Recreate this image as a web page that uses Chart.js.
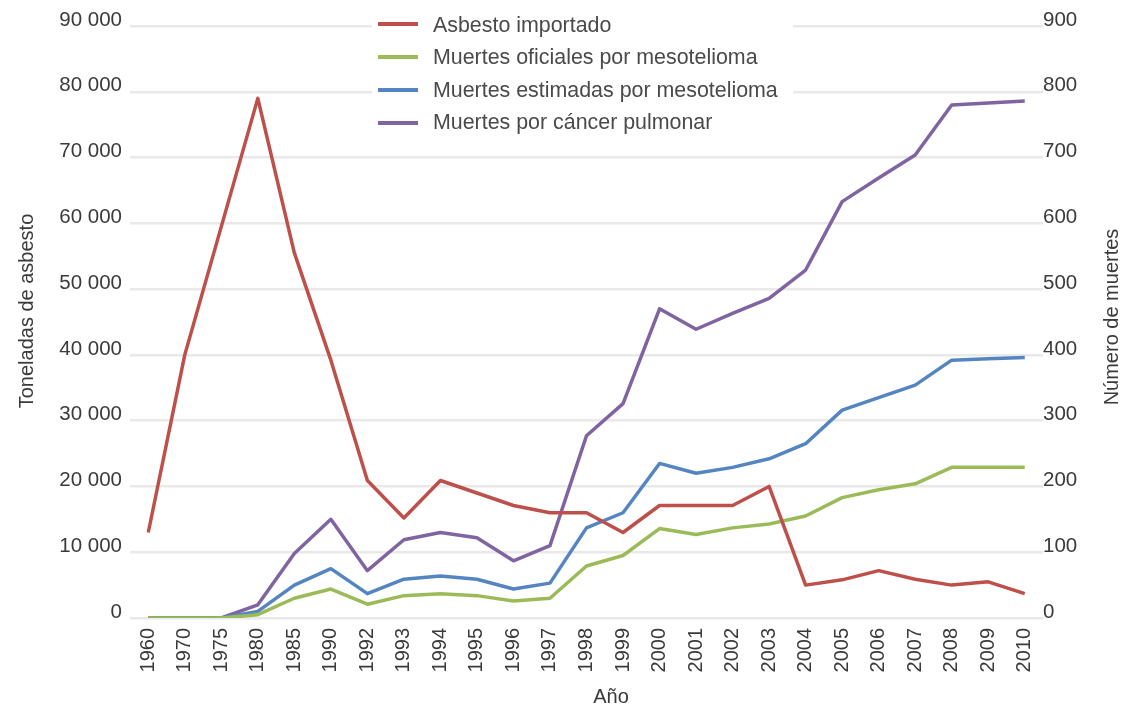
<!DOCTYPE html>
<html>
<head>
<meta charset="utf-8">
<script src="https://cdn.jsdelivr.net/npm/chart.js@4/dist/chart.umd.min.js"></script>
<style>
html,body{margin:0;padding:0;background:#fff;overflow:hidden}
canvas{display:block}
</style>
</head>
<body>
<canvas id="c" width="1127" height="705"></canvas>
<script>
// ---- Data ----
const years = ['1960','1970','1975','1980','1985','1990','1992','1993','1994','1995','1996','1997','1998','1999','2000','2001','2002','2003','2004','2005','2006','2007','2008','2009','2010'];
const asbestoImportado = [13000,40000,59500,79000,55500,39200,20900,15200,20900,19000,17100,16000,16000,13000,17100,17100,17100,20000,5000,5800,7200,5900,5000,5500,3700];
const muertesOficiales = [0,0,0,5,30,44,21,34,37,34,26,30,79,95,136,127,137,143,155,183,195,204,229,229,229];
const muertesEstimadas = [0,0,0,10,50,75,37,59,64,59,44,53,137,160,235,220,229,242,265,316,335,354,392,394,396];
const muertesCancer = [0,0,0,20,98,150,72,119,130,122,87,110,277,326,470,439,463,486,529,633,669,704,780,783,786];
const seriesLabels = ['Asbesto importado','Muertes oficiales por mesotelioma','Muertes estimadas por mesotelioma','Muertes por cáncer pulmonar'];
const leftTicksMax = 90000, leftStep = 10000;
const rightTicksMax = 900, rightStep = 100;
const leftTitle = 'Toneladas de asbesto';
const rightTitle = 'Número de muertes';
const xTitle = 'Año';

const FONT = '"Liberation Sans", Arial, Helvetica, sans-serif';
const colors = ['#be504b', '#9bbb59', '#5585c0', '#8064a2'];

function fmtThousands(v) {
  return String(v).replace(/\B(?=(\d{3})+(?!\d))/g, ' ');
}

const overlay = {
  id: 'overlay',
  afterDraw(chart) {
    const ctx = chart.ctx;
    ctx.save();
    // legend panel
    ctx.fillStyle = '#ffffff';
    ctx.fillRect(372, 0, 421, 150);
    chart.data.datasets.forEach((ds, i) => {
      const ly = 24 + i * 33;
      ctx.strokeStyle = ds.borderColor;
      ctx.lineWidth = 4;
      ctx.lineCap = 'butt';
      ctx.beginPath();
      ctx.moveTo(378, ly);
      ctx.lineTo(418, ly);
      ctx.stroke();
      ctx.fillStyle = '#4a4a4a';
      ctx.font = '21.4px ' + FONT;
      ctx.textAlign = 'left';
      ctx.textBaseline = 'middle';
      ctx.fillText(ds.label, 433, 26 + i * 32.5);
    });
    // axis titles
    ctx.fillStyle = '#3a3a3a';
    ctx.font = '20px ' + FONT;
    ctx.textAlign = 'center';
    ctx.textBaseline = 'middle';
    ctx.save();
    ctx.translate(27, 311);
    ctx.rotate(-Math.PI / 2);
    ctx.fillText(leftTitle, 0, 0);
    ctx.restore();
    ctx.save();
    ctx.translate(1112, 317);
    ctx.rotate(-Math.PI / 2);
    ctx.fillText(rightTitle, 0, 0);
    ctx.restore();
    ctx.fillText(xTitle, 611, 697);
    ctx.restore();
  }
};

new Chart(document.getElementById('c'), {
  type: 'line',
  data: {
    labels: years,
    datasets: [
      { label: seriesLabels[0], data: asbestoImportado, yAxisID: 'y', borderColor: colors[0] },
      { label: seriesLabels[1], data: muertesOficiales, yAxisID: 'y1', borderColor: colors[1] },
      { label: seriesLabels[2], data: muertesEstimadas, yAxisID: 'y1', borderColor: colors[2] },
      { label: seriesLabels[3], data: muertesCancer, yAxisID: 'y1', borderColor: colors[3] }
    ].map(d => Object.assign(d, { borderWidth: 3.5, pointRadius: 0, tension: 0, fill: false, borderJoinStyle: 'round', backgroundColor: d.borderColor }))
  },
  options: {
    responsive: false,
    animation: false,
    devicePixelRatio: 1,
    layout: { padding: { top: 26, left: 0, right: 0, bottom: 0 } },
    plugins: { legend: { display: false }, tooltip: { enabled: false }, title: { display: false } },
    scales: {
      x: {
        type: 'category',
        offset: true,
        grid: { display: false, drawTicks: false },
        border: { display: false },
        ticks: { autoSkip: false, minRotation: 90, maxRotation: 90, padding: 10, color: '#3a3a3a', font: { family: FONT, size: 20 } },
        afterFit(s) { s.height = 87; }
      },
      y: {
        position: 'left',
        min: 0, max: leftTicksMax,
        grid: { color: '#e9e9e9', lineWidth: 2.5, drawTicks: false },
        border: { display: false },
        ticks: { stepSize: leftStep, padding: 8, labelOffset: -6, color: '#3a3a3a', font: { family: FONT, size: 20.5 }, callback: v => fmtThousands(v) },
        afterFit(s) { s.width = 130; }
      },
      y1: {
        position: 'right',
        min: 0, max: rightTicksMax,
        grid: { drawOnChartArea: false, drawTicks: false },
        border: { display: false },
        ticks: { stepSize: rightStep, padding: 0, labelOffset: -6, color: '#3a3a3a', font: { family: FONT, size: 20.5 } },
        afterFit(s) { s.width = 84; }
      }
    }
  },
  plugins: [overlay]
});
</script>
</body>
</html>
